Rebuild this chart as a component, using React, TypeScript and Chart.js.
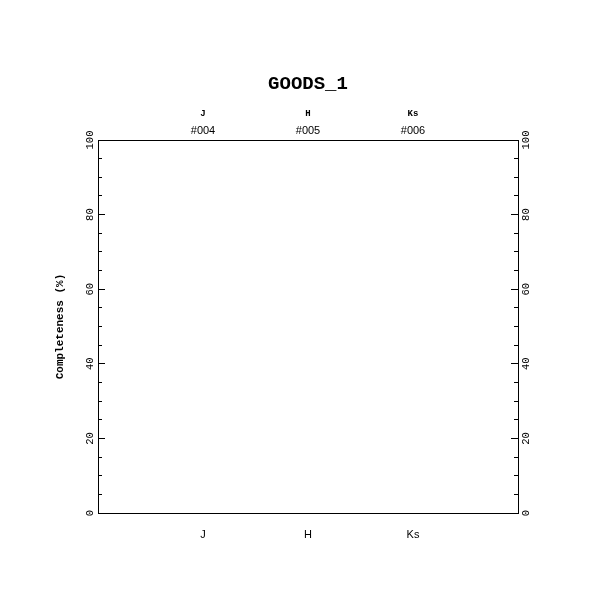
import React, { useEffect, useRef } from 'react';
import { Chart, registerables } from 'chart.js';

Chart.register(...registerables);

// ---- data ----
const TITLE = 'GOODS_1';
const Y_TITLE = 'Completeness (%)';
const BANDS = ['J', 'H', 'Ks'];
const FIELD_IDS = ['#004', '#005', '#006'];
const COMPLETENESS: { x: number; y: number }[] = []; // nothing plotted in the reference
const Y_MIN = 0;
const Y_MAX = 100;
const Y_MAJOR_STEP = 20;
const Y_MINOR_STEP = 5;

const MONO = "'Liberation Mono', 'DejaVu Sans Mono', monospace";
const SANS = "'Liberation Sans', Arial, sans-serif";

const bandTicks = (axis: any) => {
  axis.ticks = BANDS.map((_, i) => ({ value: i + 1 }));
};
const fixH = (h: number) => (axis: any) => {
  axis.height = h;
};
const fixW = (w: number) => (axis: any) => {
  axis.width = w;
};

const xBase = (pos: 'top' | 'bottom') => ({
  type: 'linear' as const,
  position: pos,
  min: 0,
  max: BANDS.length + 1,
  afterBuildTicks: bandTicks,
  grid: { display: false, drawTicks: false },
});

export default function App() {
  const ref = useRef<HTMLCanvasElement>(null);

  useEffect(() => {
    if (!ref.current) return;
    const chart = new Chart(ref.current, {
      type: 'line',
      data: {
        datasets: [
          {
            label: 'Completeness',
            data: COMPLETENESS,
            xAxisID: 'x',
            yAxisID: 'y',
            borderColor: '#000',
          },
        ],
      },
      options: {
        animation: false,
        responsive: false,
        devicePixelRatio: 1,
        layout: { padding: 0 },
        plugins: {
          legend: { display: false },
          tooltip: { enabled: false },
          title: {
            display: true,
            text: TITLE,
            color: '#000',
            fullSize: false,
            font: { family: MONO, size: 19, weight: 'bold' },
            padding: { top: 72.6, bottom: 0 },
          },
        },
        scales: {
          x: {
            ...xBase('bottom'),
            afterFit: fixH(98),
            border: { display: true, color: '#000', width: 1 },
            ticks: {
              callback: (v: any) => BANDS[Number(v) - 1] ?? '',
              color: '#000',
              font: { family: SANS, size: 11 },
              padding: 15.4,
              maxRotation: 0,
              autoSkip: false,
            },
          },
          xTopId: {
            ...xBase('top'),
            weight: 0,
            afterFit: fixH(18),
            border: { display: true, color: '#000', width: 1 },
            ticks: {
              callback: (v: any) => FIELD_IDS[Number(v) - 1] ?? '',
              color: '#000',
              font: { family: SANS, size: 11 },
              padding: 2,
              maxRotation: 0,
              autoSkip: false,
            },
          },
          xTopBand: {
            ...xBase('top'),
            weight: 1,
            afterFit: fixH(26.6),
            border: { display: false },
            ticks: {
              callback: (v: any) => BANDS[Number(v) - 1] ?? '',
              color: '#000',
              font: { family: MONO, size: 9, weight: 'bold' },
              padding: 3,
              maxRotation: 0,
              autoSkip: false,
            },
          },
          yMinorL: {
            type: 'linear',
            position: 'left',
            weight: 0,
            min: Y_MIN,
            max: Y_MAX,
            afterFit: fixW(0),
            border: { display: false },
            grid: { drawOnChartArea: false, tickLength: -4, color: '#000', lineWidth: 1 },
            ticks: { display: false, stepSize: Y_MINOR_STEP, maxTicksLimit: 100 },
          },
          y: {
            type: 'linear',
            position: 'left',
            weight: 1,
            min: Y_MIN,
            max: Y_MAX,
            afterFit: fixW(98),
            border: { display: true, color: '#000', width: 1 },
            grid: { drawOnChartArea: false, tickLength: -7, color: '#000', lineWidth: 1 },
            title: {
              display: true,
              text: Y_TITLE,
              color: '#000',
              font: { family: MONO, size: 11, weight: 'bold' },
              padding: { top: 53.4, bottom: 0 },
            },
            ticks: {
              stepSize: Y_MAJOR_STEP,
              minRotation: 90,
              maxRotation: 90,
              crossAlign: 'center',
              padding: 5.5,
              color: '#000',
              font: { family: MONO, size: 10.5 },
            },
          },
          yMinorR: {
            type: 'linear',
            position: 'right',
            weight: 0,
            min: Y_MIN,
            max: Y_MAX,
            afterFit: fixW(0),
            border: { display: false },
            grid: { drawOnChartArea: false, tickLength: -4, color: '#000', lineWidth: 1 },
            ticks: { display: false, stepSize: Y_MINOR_STEP, maxTicksLimit: 100 },
          },
          yR: {
            type: 'linear',
            position: 'right',
            weight: 1,
            min: Y_MIN,
            max: Y_MAX,
            afterFit: fixW(93),
            border: { display: true, color: '#000', width: 1 },
            grid: { drawOnChartArea: false, tickLength: -7, color: '#000', lineWidth: 1 },
            ticks: {
              stepSize: Y_MAJOR_STEP,
              minRotation: 90,
              maxRotation: 90,
              crossAlign: 'center',
              padding: 5.5,
              color: '#000',
              font: { family: MONO, size: 10.5 },
            },
          },
        },
      } as any,
    });
    return () => chart.destroy();
  }, []);

  return (
    <div style={{ position: 'absolute', left: 0, top: 0, width: 611, height: 611, background: '#fff' }}>
      <canvas ref={ref} width={611} height={611} style={{ display: 'block', width: 611, height: 611 }} />
    </div>
  );
}
